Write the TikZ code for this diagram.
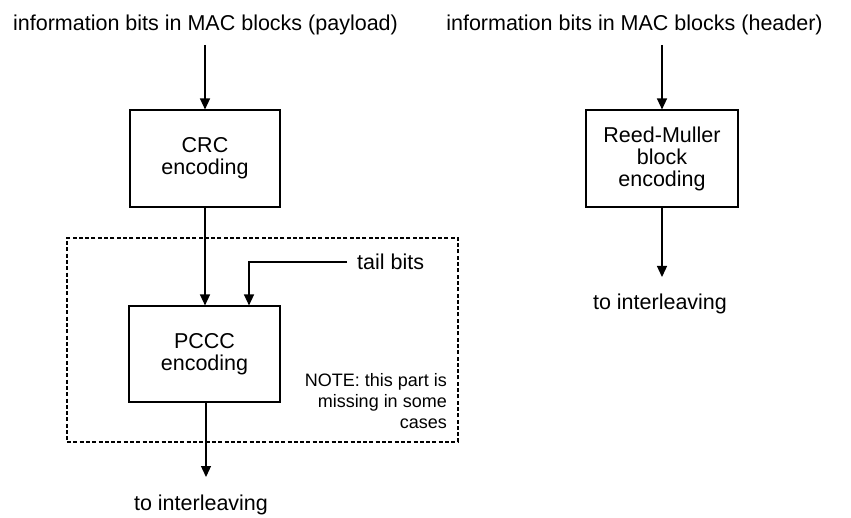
\documentclass[tikz,border=0pt]{standalone}
\usepackage{fontspec}
\setmainfont{Liberation Sans}
\usetikzlibrary{arrows.meta}
\begin{document}
\begin{tikzpicture}[x=1pt,y=-1pt,
  txt/.style={font=\fontsize{21.5}{22}\selectfont, inner sep=0pt},
  block/.style={draw, line width=1.1pt, align=center, font=\fontsize{21.5}{22}\selectfont, inner sep=0pt},
  arr/.style={line width=1.3pt, -{Triangle[width=10pt,length=11pt]}},
  dashbox/.style={draw, line width=1.3pt, dash pattern=on 4pt off 2.3pt, inner sep=0pt}]
\useasboundingbox (0,0) rectangle (851,518);
% labels
\node[txt, anchor=base] (inL) at (205.5,31) {information bits in MAC blocks (payload)};
\node[txt, anchor=base] (inR) at (634.5,31) {information bits in MAC blocks (header)};
% dashed region
\node[dashbox, minimum width=391pt, minimum height=204pt] (region) at (262.5,340) {};
% blocks
\node[block, minimum width=150pt, minimum height=97pt] (crc) at (205,158.5) {CRC\\encoding};
\node[block, minimum width=151pt, minimum height=96pt] (pccc) at (204.5,354) {PCCC\\encoding};
\node[block, minimum width=152pt, minimum height=97pt] (rm) at (662,158.5) {Reed-Muller\\block\\encoding};
% other texts
\node[txt, anchor=west, inner xsep=10pt] (tail) at (347,262) {tail bits};
\node[txt, anchor=north east, align=right, font=\fontsize{18}{21}\selectfont] (note) at (447,373) {NOTE: this part is\\missing in some\\cases};
\node[txt, anchor=base] (outL) at (201,510) {to interleaving};
\node[txt, anchor=base] (outR) at (660,310) {to interleaving};
\coordinate (endL) at (206,477);
\coordinate (endR) at (662,277);
% connectors
\draw[arr] ([yshift=-14pt]inL.base -| crc.north) -- (crc.north);
\draw[arr] ([yshift=-14pt]inR.base -| rm.north) -- (rm.north);
\draw[arr] (crc.south) -- (pccc.north -| crc.south);
\draw[arr] (tail.west) -| ([xshift=44.5pt]pccc.north);
\draw[arr] (pccc.south -| endL) -- (endL);
\draw[arr] (rm.south) -- (endR);
\end{tikzpicture}
\end{document}
